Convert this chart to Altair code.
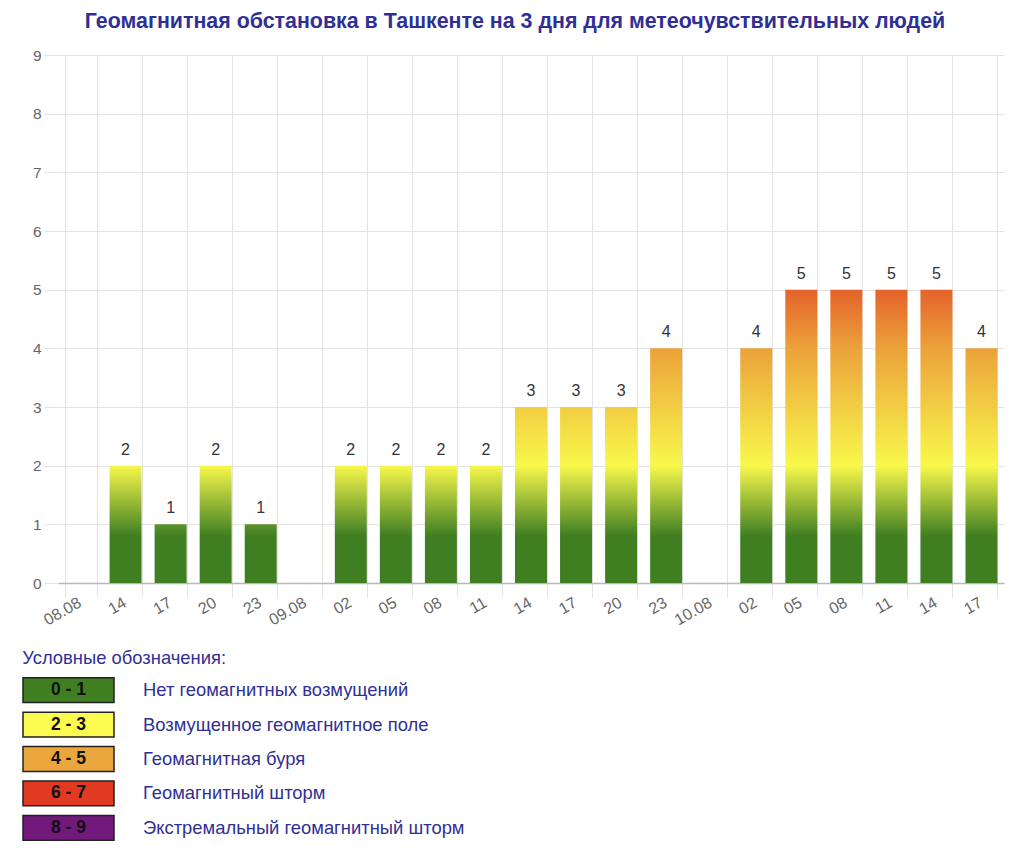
import altair as alt
import pandas as pd

# ---- data ----
slot_labels = ["08.08", "14", "17", "20", "23", "09.08", "02", "05", "08", "11",
               "14", "17", "20", "23", "10.08", "02", "05", "08", "11", "14", "17"]
kp_values = [None, 2, 1, 2, 1, None, 2, 2, 2, 2, 3, 3, 3, 4, None, 4, 5, 5, 5, 5, 4]

legend_ranges = ["0 - 1", "2 - 3", "4 - 5", "6 - 7", "8 - 9"]
legend_texts = ["Нет геомагнитных возмущений", "Возмущенное геомагнитное поле",
                "Геомагнитная буря", "Геомагнитный шторм", "Экстремальный геомагнитный шторм"]
legend_colors = ["#3f7f22", "#fbfb50", "#eba73d", "#e03a22", "#711a7b"]

title_text = "Геомагнитная обстановка в Ташкенте на 3 дня для метеочувствительных людей"
legend_title = "Условные обозначения:"

# colour ramp along the Kp scale (style)
ramp_levels = [0.0, 0.8, 2.0, 4.0, 5.0, 6.0]
ramp_colors = ["#3f7f22", "#3f7f22", "#f8f84b", "#eba23a", "#e4622a", "#e03a22"]

NAVY = "#2f2f96"
FONT = "Liberation Sans"
GRID = "#e3e3e3"


def hex2rgb(h):
    h = h.lstrip("#")
    return [int(h[i:i + 2], 16) for i in (0, 2, 4)]


def rgb2hex(c):
    return "#" + "".join(f"{int(round(v)):02x}" for v in c)


def ramp_at(v):
    for i in range(len(ramp_levels) - 1):
        a, b = ramp_levels[i], ramp_levels[i + 1]
        if a <= v <= b:
            t = 0 if b == a else (v - a) / (b - a)
            ca, cb = hex2rgb(ramp_colors[i]), hex2rgb(ramp_colors[i + 1])
            return rgb2hex([ca[k] + (cb[k] - ca[k]) * t for k in range(3)])
    return ramp_colors[-1]


def gradient_for(v):
    stops = []
    for lv, col in zip(ramp_levels, ramp_colors):
        if lv < v:
            stops.append({"offset": lv / v, "color": col})
    stops.append({"offset": 1.0, "color": ramp_at(v)})
    return {"gradient": "linear", "x1": 0, "y1": 1, "x2": 0, "y2": 0, "stops": stops}


df = pd.DataFrame({"slot": list(range(len(slot_labels))), "kp": kp_values})

label_expr = "[" + ",".join(f"'{s}'" for s in slot_labels) + "][datum.value]"

x_enc = alt.X(
    "slot:O",
    scale=alt.Scale(domain=list(range(len(slot_labels))), paddingInner=0.29, paddingOuter=0.145),
    axis=alt.Axis(
        title=None, labelExpr=label_expr, labelAngle=330, labelAlign="right",
        labelBaseline="top", labelPadding=-3, labelOffset=-5, tickBand="extent", tickSize=14,
        tickColor=GRID, grid=True, gridColor=GRID, domainColor="#b8b8b8",
        domainWidth=1.5, labelColor="#666666", labelFontSize=16, labelFont=FONT,
    ),
)
y_enc = alt.Y(
    "kp:Q",
    scale=alt.Scale(domain=[0, 9], nice=False),
    axis=alt.Axis(
        title=None, values=list(range(10)), tickSize=14, tickColor=GRID,
        gridColor=GRID, domain=False, labelPadding=3, labelColor="#666666",
        labelFontSize=15.5, labelFont=FONT, minExtent=32,
    ),
)

base = alt.Chart(df).encode(x=x_enc, y=y_enc)

bar_layers = []
for v in sorted({k for k in kp_values if k is not None}):
    bar_layers.append(
        base.transform_filter(alt.datum.kp == v).mark_bar(fill=gradient_for(v))
    )

value_text = base.transform_filter("isValid(datum.kp)").mark_text(
    baseline="alphabetic", dy=-11, fontSize=16, font=FONT, color="#333333"
).encode(text=alt.Text("kp:Q"))

main = alt.layer(*bar_layers, value_text).properties(
    width=946, height=528,
    title=alt.TitleParams(
        title_text, font=FONT, fontSize=21.4, fontWeight="bold", color=NAVY,
        anchor="middle", frame="bounds", offset=16,
    ),
)

leg_df = pd.DataFrame({"range": legend_ranges, "desc": legend_texts, "color": legend_colors})
leg_y = alt.Y("range:N", sort=None, axis=None,
              scale=alt.Scale(paddingInner=0.28, paddingOuter=0.14))
leg_base = alt.Chart(leg_df).encode(y=leg_y)

leg_box = leg_base.mark_rect(stroke="#222222", strokeWidth=1.5).encode(
    x=alt.value(-35), x2=alt.value(56), fill=alt.Color("color:N", scale=None)
)
leg_rng = leg_base.mark_text(fontSize=17.5, fontWeight="bold", font=FONT, color="#111111").encode(
    x=alt.value(10.5), text="range:N"
)
leg_desc = leg_base.mark_text(fontSize=18.4, font=FONT, color=NAVY, align="left").encode(
    x=alt.value(85), text="desc:N"
)

legend = alt.layer(leg_box, leg_rng, leg_desc).properties(
    width=480, height=172,
    title=alt.TitleParams(
        legend_title, font=FONT, fontSize=18.4, fontWeight="normal", color=NAVY,
        anchor="start", frame="bounds", offset=6,
    ),
)

chart = alt.vconcat(main, legend, spacing=20).properties(
    padding={"left": 14, "top": 2, "right": 5, "bottom": 2}
).configure_view(stroke=None)

chart.save("out.html", embed_options={"renderer": "svg", "actions": False})
